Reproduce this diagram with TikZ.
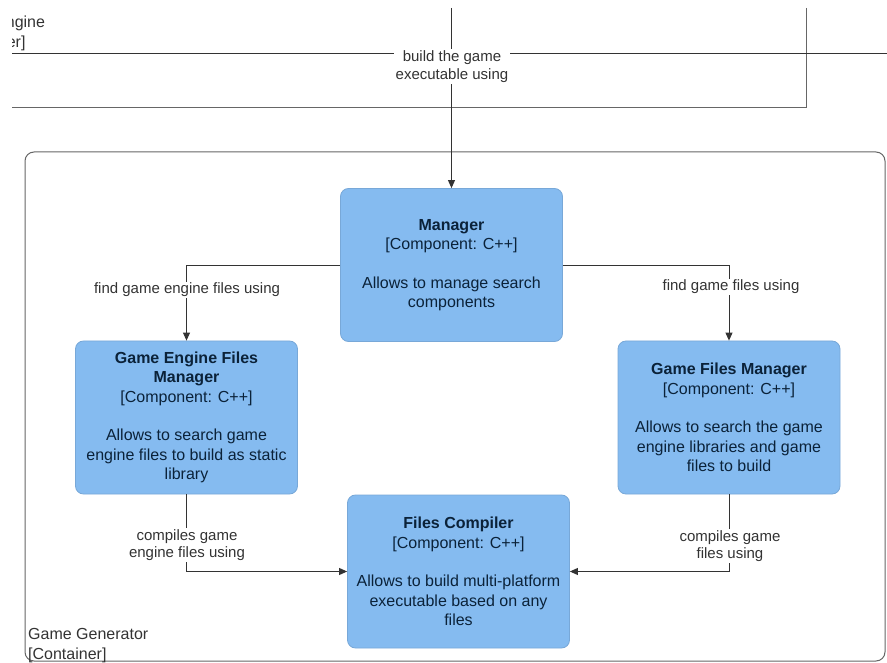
\documentclass[tikz,border=0pt]{standalone}
\usepackage{fontspec}
\setmainfont{Liberation Sans}
\usetikzlibrary{arrows.meta}
\definecolor{boxfill}{HTML}{85BBF0}
\definecolor{boxline}{HTML}{78A8D8}
\definecolor{boxtext}{HTML}{0B2239}
\definecolor{linecol}{HTML}{333333}
\definecolor{labcol}{HTML}{333333}
\definecolor{boundcol}{HTML}{666666}
\begin{document}
\begin{tikzpicture}[x=1pt,y=-1pt,
  comp/.style={draw=boxline, fill=boxfill, rounded corners=8pt, minimum width=222pt, minimum height=153pt,
    inner sep=2pt, align=center, text=boxtext, font=\fontsize{16}{19.5}\selectfont, line width=0.8pt},
  elabel/.style={fill=white, align=center, text=labcol, font=\fontsize{15}{17.5}\selectfont, inner sep=1.5pt},
  conn/.style={draw=linecol, line width=0.9pt, -{Triangle[length=8pt,width=7pt]}},
  plainline/.style={draw=linecol, line width=0.9pt},
  boundary/.style={draw=boundcol, line width=1pt},
  boundlabel/.style={align=left, text=labcol, font=\fontsize{16}{20}\selectfont, inner sep=0pt},
]
\useasboundingbox (0,0) rectangle (887,663);
\begin{scope}
\clip (12,8) rectangle (887,662);

% Game Engine container boundary (partly visible)
\coordinate (gec1) at (806,8);
\coordinate (gec2) at (806,108);
\coordinate (gec3) at (12,108);
\draw[boundary] (gec1) -- (gec2) -- (gec3);
\node[boundlabel, anchor=base west] (gelabel) at (-53,48) {Game Engine\\{[}Container{]}};

% passing connector
\coordinate (passA) at (12,53);
\coordinate (passB) at (887,53);
\draw[plainline] (passA) -- (passB);

% Game Generator container boundary
\draw[boundary, rounded corners=9pt] (25,152) rectangle (885,661);
\node[boundlabel, anchor=base west] (gglabel) at (28,659) {Game Generator\\{[}Container{]}};

% components
\node[comp] (man) at (451.5,265) {\textbf{Manager}\\{[}Component: C++{]}\\[19pt]Allows to manage search\\components};
\node[comp] (gefm) at (186.5,417.5) {\textbf{Game Engine Files}\\\textbf{Manager}\\{[}Component: C++{]}\\[19pt]Allows to search game\\engine files to build as static\\library};
\node[comp] (gfm) at (729,417.5) {\textbf{Game Files Manager}\\{[}Component: C++{]}\\[19pt]Allows to search the game\\engine libraries and game\\files to build};
\node[comp] (fc) at (458.5,571.5) {\textbf{Files Compiler}\\{[}Component: C++{]}\\[19pt]Allows to build multi-platform\\executable based on any\\files};

% connectors
\coordinate (topsrc) at (451.5,8);
\draw[conn] (topsrc) -- (man.north);
\draw[conn] (man.west) -| (gefm.north);
\draw[conn] (man.east) -| (gfm.north);
\draw[conn] (gefm.south) |- (fc.west);
\draw[conn] (gfm.south) |- (fc.east);

% connector labels
\node[elabel] (l0) at (452,66.5) {build the game\\executable using};
\node[elabel] (l1) at (187,290) {find game engine files using};
\node[elabel] (l2) at (731,287) {find game files using};
\node[elabel] (l3) at (187,545) {compiles game\\engine files using};
\node[elabel] (l4) at (730,546) {compiles game\\files using};
\end{scope}
\end{tikzpicture}
\end{document}
